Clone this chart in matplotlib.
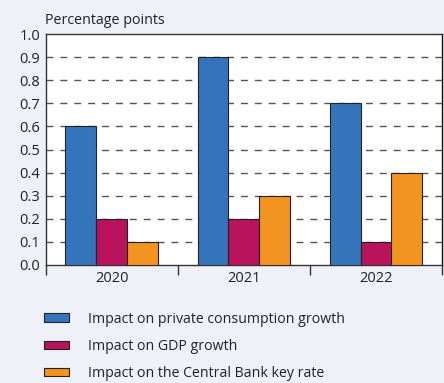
import matplotlib.pyplot as plt
import numpy as np

years = ["2020", "2021", "2022"]
consumption = [0.6, 0.9, 0.7]
gdp = [0.2, 0.2, 0.1]
key_rate = [0.1, 0.3, 0.4]
series_names = ["Impact on private consumption growth",
                "Impact on GDP growth",
                "Impact on the Central Bank key rate"]
colors = ["#3474ba", "#b8135c", "#f39420"]
y_ticks = [0.0, 0.1, 0.2, 0.3, 0.4, 0.5, 0.6, 0.7, 0.8, 0.9, 1.0]

bg = "#eff1f8"
plt.rcParams["font.family"] = "Open Sans"

fig = plt.figure(figsize=(4.44, 3.83), dpi=100, facecolor=bg)
ax = fig.add_axes([45.5 / 444, 1 - 265 / 383, (442 - 45.5) / 444, (265 - 34) / 383])
ax.set_facecolor("white")

x = np.arange(len(years))
w = 0.233
for i, vals in enumerate([consumption, gdp, key_rate]):
    ax.bar(x + (i - 1) * w, vals, w, color=colors[i], edgecolor="#222222",
           linewidth=0.8, label=series_names[i], zorder=3)

ax.set_xlim(-0.5, 2.5)
ax.set_ylim(0, 1.0)
ax.set_yticks(y_ticks)
ax.set_yticklabels([f"{v:.1f}" for v in y_ticks], fontsize=10.5, color="#222222")
for v in y_ticks[1:-1]:
    ax.axhline(v, color="#555555", lw=1.0, dashes=(5, 5), zorder=1)
ax.tick_params(axis="y", length=0, pad=4)

ax.set_xticks(x)
ax.set_xticklabels(years, fontsize=10.5, color="#222222")
ax.tick_params(axis="x", length=0, pad=4)
ax.set_xticks([-0.5, 0.5, 1.5, 2.5], minor=True)
ax.tick_params(axis="x", which="minor", length=7, width=1, color="#333333", direction="out")

for s in ["left", "bottom", "top", "right"]:
    ax.spines[s].set_color("#333333")
    ax.spines[s].set_linewidth(1.0)
ax.spines["right"].set_color("#111111")

fig.text(45 / 444, 1 - 20 / 383, "Percentage points", fontsize=10.3,
         color="#222222", va="center", ha="left")

handles, labels = ax.get_legend_handles_labels()
fig.legend(handles, labels, loc="upper left", bbox_to_anchor=(31 / 444, 1 - 299 / 383),
           frameon=False, fontsize=10.2, handlelength=1.75, handleheight=0.55,
           handletextpad=1.4, labelspacing=0.85, labelcolor="#222222")

fig.savefig("out.png", dpi=100, facecolor=bg)
